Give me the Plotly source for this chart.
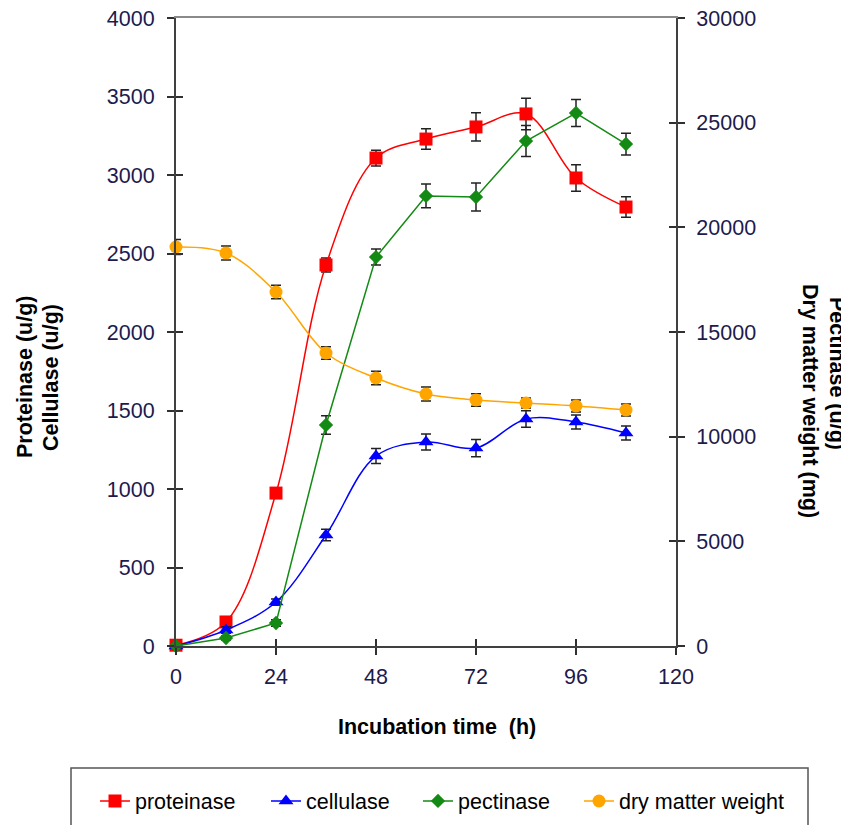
import plotly.graph_objects as go

hours = [0, 12, 24, 36, 48, 60, 72, 84, 96, 108]
proteinase = [5, 153, 974, 2427, 3108, 3229, 3306, 3389, 2981, 2796]
proteinase_err = [20, 20, 20, 45, 50, 65, 90, 100, 85, 65]
cellulase = [0, 102, 280, 707, 1210, 1299, 1261, 1446, 1427, 1357]
cellulase_err = [10, 20, 20, 37, 48, 51, 55, 53, 45, 45]
pectinase = [0, 382, 1099, 10557, 18580, 21500, 21450, 24124, 25462, 23980]
pectinase_err = [50, 100, 150, 440, 380, 570, 670, 740, 650, 520]
dry_matter = [19060, 18774, 16911, 13997, 12803, 12038, 11752, 11608, 11465, 11274]
dry_matter_err = [360, 335, 320, 300, 320, 340, 300, 240, 290, 290]

x_ticks = [0, 24, 48, 72, 96, 120]

FONT = "Liberation Sans, Arial, sans-serif"
TICKCOL = "#1c1a4e"
FS = 21.5

# page body has an 8px default margin; work in screen pixels and offset
OFF = 8
W, H = 849 - OFF, 825 - OFF
# plot area in screen pixels
L, R, T, B = 176, 676, 18, 646
PW, PH = R - L, B - T

def px(xs):
    return (xs - L) / PW

def py(ys):
    return (B - ys) / PH

def err(vals):
    return dict(type="data", array=vals, visible=True, color="#222222", thickness=1.5, width=5)

fig = go.Figure()
# empty helper traces so the overlay axes (crossing ticks, top frame line) get drawn
fig.add_trace(go.Scatter(x=[], y=[], xaxis="x2", yaxis="y3", showlegend=False, hoverinfo="skip"))
fig.add_trace(go.Scatter(x=[], y=[], xaxis="x3", yaxis="y4", showlegend=False, hoverinfo="skip"))

fig.add_trace(go.Scatter(x=hours, y=proteinase, name="proteinase", mode="lines+markers",
                         line=dict(color="#FF0000", width=1.5, shape="spline"),
                         marker=dict(symbol="square", size=13, color="#FF0000"),
                         error_y=err(proteinase_err), yaxis="y", cliponaxis=False,
                         legend="legend"))
fig.add_trace(go.Scatter(x=hours, y=cellulase, name="cellulase", mode="lines+markers",
                         line=dict(color="#0000FF", width=1.5, shape="spline"),
                         marker=dict(symbol="triangle-up", size=13, color="#0000FF"),
                         error_y=err(cellulase_err), yaxis="y", cliponaxis=False,
                         legend="legend2"))
fig.add_trace(go.Scatter(x=hours, y=pectinase, name="pectinase", mode="lines+markers",
                         line=dict(color="#138A13", width=1.5),
                         marker=dict(symbol="diamond", size=11, color="#138A13"),
                         error_y=err(pectinase_err), yaxis="y2", cliponaxis=False,
                         legend="legend3"))
fig.add_trace(go.Scatter(x=hours, y=dry_matter, name="dry matter weight", mode="lines+markers",
                         line=dict(color="#FFA500", width=1.5, shape="spline"),
                         marker=dict(symbol="circle", size=13, color="#FFA500"),
                         error_y=err(dry_matter_err), yaxis="y2", cliponaxis=False,
                         legend="legend4"))

axis_common = dict(showgrid=False, zeroline=False, linecolor="#404040", linewidth=2,
                   ticks="outside", ticklen=7, tickwidth=2, tickcolor="#303030",
                   automargin=False, ticklabeloverflow="allow",
                   tickfont=dict(family=FONT, size=FS, color=TICKCOL))
inner_ticks = dict(showline=False, showgrid=False, zeroline=False, showticklabels=False,
                   ticks="inside", ticklen=7, tickwidth=2, tickcolor="#303030", automargin=False)

def leg(xpix):
    return dict(orientation="h", x=px(xpix), xanchor="left", y=py(801), yanchor="middle",
                bgcolor="rgba(0,0,0,0)", borderwidth=0,
                font=dict(family=FONT, size=FS, color="black"))

fig.update_layout(
    width=W, height=H,
    margin=dict(l=L - OFF, r=W - (R - OFF), t=T - OFF, b=H - (B - OFF), autoexpand=False),
    paper_bgcolor="white", plot_bgcolor="white",
    font=dict(family=FONT, size=FS, color="black"),
    xaxis=dict(range=[0, 120], tickvals=x_ticks, showline=True, ticklabelstandoff=3, **axis_common),
    xaxis2=dict(range=[0, 120], tickvals=x_ticks, overlaying="x", side="bottom", anchor="y",
                **inner_ticks),
    xaxis3=dict(range=[0, 120], overlaying="x", side="top", anchor="y", showline=True,
                linecolor="#8a8a8a", linewidth=1.5, ticks="", showticklabels=False,
                showgrid=False, zeroline=False, automargin=False),
    yaxis=dict(range=[0, 4000], dtick=500, showline=True, tickformat="d",
               ticklabelstandoff=8, **axis_common),
    yaxis2=dict(range=[0, 30000], dtick=5000, overlaying="y", side="right", anchor="x",
                showline=True, tickformat="d", ticklabelstandoff=7, **axis_common),
    yaxis3=dict(range=[0, 4000], dtick=500, overlaying="y", side="left", anchor="x",
                **inner_ticks),
    yaxis4=dict(range=[0, 30000], dtick=5000, overlaying="y", side="right", anchor="x",
                **inner_ticks),
    showlegend=True,
    legend=leg(95),
    legend2=leg(266),
    legend3=leg(418),
    legend4=leg(579),
)

# legend frame
fig.add_shape(type="rect", xref="paper", yref="paper", x0=px(71), x1=px(808), y0=py(768), y1=py(860),
              line=dict(color="#555555", width=1.5), fillcolor="rgba(0,0,0,0)", layer="below")

ann_font = dict(family=FONT, size=FS, color="black")
fig.add_annotation(text="<b>Incubation time  (h)</b>", xref="paper", yref="paper",
                   x=px(437), y=py(727), showarrow=False, font=ann_font,
                   xanchor="center", yanchor="middle")
fig.add_annotation(text="<b>Proteinase (u/g)</b>", xref="paper", yref="paper",
                   x=px(25), y=py(377), showarrow=False, font=ann_font,
                   textangle=-90, xanchor="center", yanchor="middle")
fig.add_annotation(text="<b>Cellulase (u/g)</b>", xref="paper", yref="paper",
                   x=px(51), y=py(378), showarrow=False, font=ann_font,
                   textangle=-90, xanchor="center", yanchor="middle")
fig.add_annotation(text="<b>Pectinase (u/g)</b>", xref="paper", yref="paper",
                   x=px(837), y=py(373), showarrow=False, font=ann_font,
                   textangle=90, xanchor="center", yanchor="middle")
fig.add_annotation(text="<b>Dry matter weight (mg)</b>", xref="paper", yref="paper",
                   x=px(810), y=py(401), showarrow=False, font=ann_font,
                   textangle=90, xanchor="center", yanchor="middle")

fig.write_html("out.html")
